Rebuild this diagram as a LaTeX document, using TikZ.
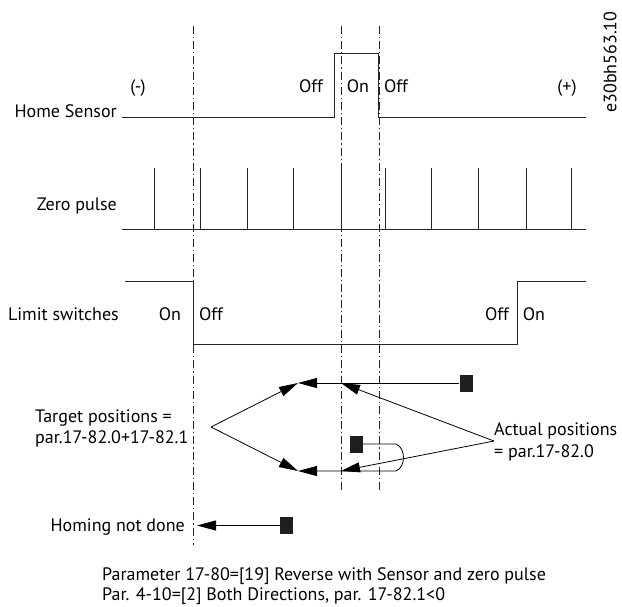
\documentclass[tikz,border=0pt]{standalone}
\usepackage{fontspec}
\setmainfont{PT Sans}
\usetikzlibrary{arrows.meta}
\begin{document}
\begin{tikzpicture}[x=1pt,y=-1pt,
  font=\fontsize{18}{21.5}\selectfont,
  sig/.style={line width=0.9pt, draw=black!85},
  guide/.style={line width=0.8pt, draw=black!85, dash pattern=on 8pt off 3pt on 1.2pt off 3pt},
  arr/.style={-{Triangle[length=19pt,width=10pt]}, line width=0.8pt},
  blk/.style={fill=black!88, draw=none, minimum width=13pt, minimum height=17pt, inner sep=0pt},
  lbl/.style={inner sep=0pt, text height=12.5pt, text depth=0pt},
  txt/.style={inner sep=0pt, anchor=base west}
]
\useasboundingbox (0,0) rectangle (622,606);

% guide lines
\draw[guide] (193,26) -- (193,545);
\draw[guide] (341,26) -- (341,490);
\draw[guide] (379,26) -- (379,490);

% id
\node[inner sep=0pt, rotate=90] (id) at (610,62) {e30bh563.10};

% Home sensor
\node[lbl, anchor=east] (hs) at (117,111) {Home Sensor};
\draw[sig] (122,117) -- (334,117) -- (334,53) -- (378,53) -- (378,117) -- (586,117);
\node[lbl] (m) at (138,86) {(-)};
\node[lbl] (off1) at (311,86) {Off};
\node[lbl] (on1) at (358,86) {On};
\node[lbl] (off2) at (396,86) {Off};
\node[lbl] (p) at (567,86) {(+)};

% Zero pulse
\node[lbl, anchor=east] (zp) at (117,204) {Zero pulse};
\draw[sig] (122,229) -- (586,229);
\foreach \x in {154,200,247,293,341,385,431,478,526,571}
  \draw[sig] (\x,229) -- (\x,168);

% Limit switches
\node[lbl, anchor=east] (ls) at (119,314) {Limit switches};
\draw[sig] (125,281) -- (193,281) -- (193,344) -- (517,344) -- (517,281) -- (586,281);
\node[lbl] (on2) at (170,314) {On};
\node[lbl] (off3) at (211,314) {Off};
\node[lbl] (off4) at (497,314) {Off};
\node[lbl] (on3) at (534,314) {On};

% positions
\node[blk] (b1) at (466,383) {};
\node[blk] (b2) at (356,444) {};
\coordinate (t1) at (298,383);
\coordinate (t2) at (298,471);
\coordinate (a1) at (341,383);
\coordinate (a2) at (341,471);
\coordinate (tp) at (211,427);
\coordinate (ap) at (494,441);
\coordinate (lp1) at (396,444);
\coordinate (lp2) at (396,471);

\draw[arr] (b1.west) -- (t1);
\draw[arr] (tp) -- (t1);
\draw[arr] (tp) -- (t2);
\draw[arr] (b2.east) -- (lp1) .. controls (406,448) and (406,467) .. (lp2) -- (t2);
\draw[arr] (ap) -- (a1);
\draw[arr] (ap) -- (a2);

\node[txt] (tx1) at (35,422) {Target positions =};
\node[txt] (tx2) at (35,443) {par.17-82.0+17-82.1};
\node[txt] (ax1) at (494,435) {Actual positions};
\node[txt] (ax2) at (494,457) {= par.17-82.0};

% homing
\node[lbl, anchor=east] (hn) at (185,525) {Homing not done};
\node[blk] (b3) at (286.5,525.5) {};
\coordinate (h1) at (197,525.5);
\draw[arr] (b3.west) -- (h1);

% caption
\node[txt] (c1) at (102,580) {Parameter 17-80=[19] Reverse with Sensor and zero pulse};
\node[txt] (c2) at (102,600) {Par. 4-10=[2] Both Directions, par. 17-82.1<0};
\end{tikzpicture}
\end{document}
